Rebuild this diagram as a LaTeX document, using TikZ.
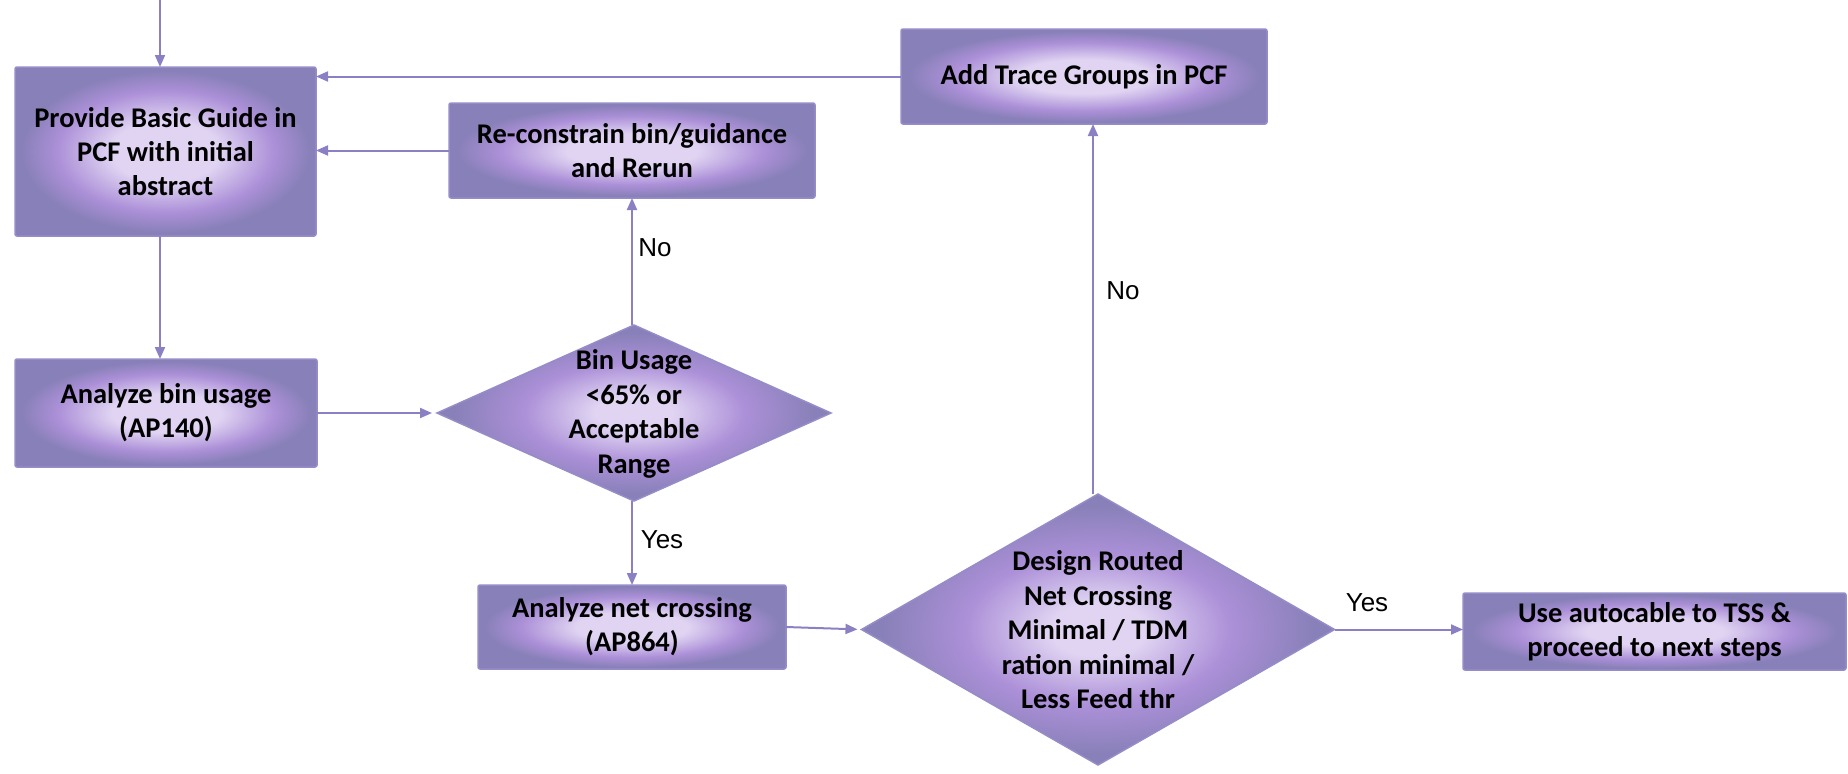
\documentclass[tikz,border=0pt]{standalone}
\usepackage{fontspec}
\setmainfont{Carlito}
\newfontfamily\labelfont{Liberation Sans}
\usetikzlibrary{arrows.meta,shapes.geometric}
\definecolor{cIn}{RGB}{224,212,242}
\definecolor{cMid}{RGB}{172,144,216}
\definecolor{cEdge}{RGB}{136,128,184}
\definecolor{cBorder}{RGB}{150,140,200}
\definecolor{cLine}{RGB}{140,128,196}
\pgfdeclareradialshading{boxshade}{\pgfpoint{0bp}{0bp}}{color(0bp)=(cIn); color(9bp)=(cIn); color(18bp)=(cMid); color(24bp)=(cEdge); color(50bp)=(cEdge)}
\pgfdeclareradialshading{diashade}{\pgfpoint{0bp}{0bp}}{color(0bp)=(cIn); color(5bp)=(cIn); color(14bp)=(cMid); color(23bp)=(cEdge); color(50bp)=(cEdge)}
\tikzset{
  procbox/.style={rectangle, shading=boxshade, draw=cBorder, line width=1.5pt, rounded corners=2pt,
    inner sep=0pt, outer sep=0pt, align=center, font=\bfseries\fontsize{28.5}{34}\selectfont},
  decision/.style={diamond, shading=diashade, draw=cBorder, line width=1.5pt,
    inner sep=0pt, outer sep=0pt},
  dtext/.style={align=center, inner sep=0pt, font=\bfseries\fontsize{28.5}{34.5}\selectfont},
  arr/.style={draw=cLine, line width=2pt, -{Triangle[length=12pt,width=10pt]}},
  lbl/.style={font=\labelfont\fontsize{26}{30}\selectfont, inner sep=0pt}
}
\begin{document}
\begin{tikzpicture}[x=1pt,y=-1pt]
\useasboundingbox (0,0) rectangle (1848,774);
% process boxes
\node[procbox, minimum width=301pt, minimum height=169pt] (b1) at (165.5,151.5) {Provide Basic Guide in\\PCF with initial\\abstract};
\node[procbox, minimum width=366pt, minimum height=95pt] (b2) at (632,150.5) {Re-constrain bin/guidance\\and Rerun};
\node[procbox, minimum width=366pt, minimum height=95pt] (b3) at (1084,76.5) {Add Trace Groups in PCF};
\node[procbox, minimum width=302pt, minimum height=108pt] (b4) at (166,413) {Analyze bin usage\\(AP140)};
\node[procbox, minimum width=308pt, minimum height=84pt] (b5) at (632,627) {Analyze net crossing\\(AP864)};
\node[procbox, minimum width=383pt, minimum height=77pt] (b6) at (1654.5,631.5) {Use autocable to TSS \&\\proceed to next steps};
% decisions
\node[decision, minimum width=394pt, minimum height=176pt] (d1) at (634,413) {};
\node[dtext] (d1t) at (634,414) {Bin Usage\\<65\% or\\Acceptable\\Range};
\node[decision, minimum width=473pt, minimum height=271pt] (d2) at (1098,629.5) {};
\node[dtext] (d2t) at (1098,630) {Design Routed\\Net Crossing\\Minimal / TDM\\ration minimal /\\Less Feed thr};
% connectors
\coordinate (start) at (160,0);
\coordinate (vx) at (1093,0);
\draw[arr] (start) -- (start |- b1.north);
\draw[arr] (b3.west) -- (b3.west -| b1.east);
\draw[arr] (b2.west) -- (b2.west -| b1.east);
\draw[arr] (b1.south -| start) -- (b4.north -| start);
\draw[arr, shorten >=5pt] (b4.east) -- (d1.west);
\draw[arr] (d1.north -| b2.south) -- (b2.south);
\draw[arr] (d1.south -| b5.north) -- (b5.north);
\draw[arr, shorten >=4pt] (b5.east) -- (d2.west);
\draw[arr] (d2.north -| vx) -- (b3.south -| vx);
\draw[arr] (d2.east) -- (d2.east -| b6.west);
% labels
\node[lbl] (lno1) at (655,248) {No};
\node[lbl] (lyes1) at (662,540) {Yes};
\node[lbl] (lno2) at (1123,291) {No};
\node[lbl] (lyes2) at (1367,603) {Yes};
\end{tikzpicture}
\end{document}
